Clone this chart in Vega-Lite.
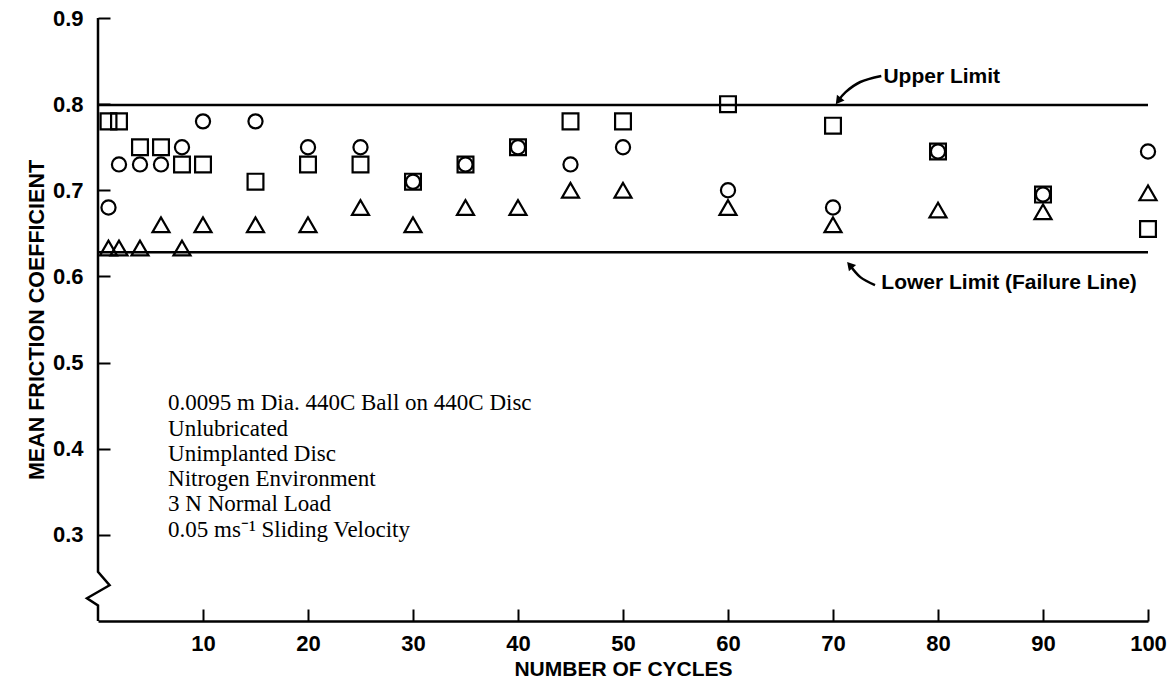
{
  "$schema": "https://vega.github.io/schema/vega-lite/v6.json",
  "width": 1050,
  "height": 603,
  "autosize": "none",
  "padding": {"left": 98, "top": 18, "right": 26, "bottom": 66},
  "background": "white",
  "config": {
    "view": {"stroke": null},
    "font": "Liberation Sans",
    "axis": {"grid": false, "labelColor": "black", "titleColor": "black", "domainColor": "black", "tickColor": "black"}
  },
  "datasets": {
    "friction": [
      {"cycles": 1, "mu": 0.68, "run": "circle"},
      {"cycles": 2, "mu": 0.73, "run": "circle"},
      {"cycles": 4, "mu": 0.73, "run": "circle"},
      {"cycles": 6, "mu": 0.73, "run": "circle"},
      {"cycles": 8, "mu": 0.75, "run": "circle"},
      {"cycles": 10, "mu": 0.78, "run": "circle"},
      {"cycles": 15, "mu": 0.78, "run": "circle"},
      {"cycles": 20, "mu": 0.75, "run": "circle"},
      {"cycles": 25, "mu": 0.75, "run": "circle"},
      {"cycles": 30, "mu": 0.71, "run": "circle"},
      {"cycles": 35, "mu": 0.73, "run": "circle"},
      {"cycles": 40, "mu": 0.75, "run": "circle"},
      {"cycles": 45, "mu": 0.73, "run": "circle"},
      {"cycles": 50, "mu": 0.75, "run": "circle"},
      {"cycles": 60, "mu": 0.70, "run": "circle"},
      {"cycles": 70, "mu": 0.68, "run": "circle"},
      {"cycles": 80, "mu": 0.745, "run": "circle"},
      {"cycles": 90, "mu": 0.695, "run": "circle"},
      {"cycles": 100, "mu": 0.745, "run": "circle"},
      {"cycles": 1, "mu": 0.78, "run": "square"},
      {"cycles": 2, "mu": 0.78, "run": "square"},
      {"cycles": 4, "mu": 0.75, "run": "square"},
      {"cycles": 6, "mu": 0.75, "run": "square"},
      {"cycles": 8, "mu": 0.73, "run": "square"},
      {"cycles": 10, "mu": 0.73, "run": "square"},
      {"cycles": 15, "mu": 0.71, "run": "square"},
      {"cycles": 20, "mu": 0.73, "run": "square"},
      {"cycles": 25, "mu": 0.73, "run": "square"},
      {"cycles": 30, "mu": 0.71, "run": "square"},
      {"cycles": 35, "mu": 0.73, "run": "square"},
      {"cycles": 40, "mu": 0.75, "run": "square"},
      {"cycles": 45, "mu": 0.78, "run": "square"},
      {"cycles": 50, "mu": 0.78, "run": "square"},
      {"cycles": 60, "mu": 0.80, "run": "square"},
      {"cycles": 70, "mu": 0.775, "run": "square"},
      {"cycles": 80, "mu": 0.745, "run": "square"},
      {"cycles": 90, "mu": 0.695, "run": "square"},
      {"cycles": 100, "mu": 0.655, "run": "square"},
      {"cycles": 1, "mu": 0.633, "run": "triangle"},
      {"cycles": 2, "mu": 0.633, "run": "triangle"},
      {"cycles": 4, "mu": 0.633, "run": "triangle"},
      {"cycles": 6, "mu": 0.66, "run": "triangle"},
      {"cycles": 8, "mu": 0.633, "run": "triangle"},
      {"cycles": 10, "mu": 0.66, "run": "triangle"},
      {"cycles": 15, "mu": 0.66, "run": "triangle"},
      {"cycles": 20, "mu": 0.66, "run": "triangle"},
      {"cycles": 25, "mu": 0.68, "run": "triangle"},
      {"cycles": 30, "mu": 0.66, "run": "triangle"},
      {"cycles": 35, "mu": 0.68, "run": "triangle"},
      {"cycles": 40, "mu": 0.68, "run": "triangle"},
      {"cycles": 45, "mu": 0.70, "run": "triangle"},
      {"cycles": 50, "mu": 0.70, "run": "triangle"},
      {"cycles": 60, "mu": 0.68, "run": "triangle"},
      {"cycles": 70, "mu": 0.66, "run": "triangle"},
      {"cycles": 80, "mu": 0.677, "run": "triangle"},
      {"cycles": 90, "mu": 0.675, "run": "triangle"},
      {"cycles": 100, "mu": 0.697, "run": "triangle"}
    ],
    "limits": [
      {"limit": "Upper Limit", "mu": 0.799},
      {"limit": "Lower Limit (Failure Line)", "mu": 0.628}
    ],
    "yAxisLine": [
      {"i": 0, "cycles": 0, "mu": 0.9},
      {"i": 1, "cycles": 0, "mu": 0.257},
      {"i": 2, "cycles": 1.1, "mu": 0.2415},
      {"i": 3, "cycles": -1.05, "mu": 0.2264},
      {"i": 4, "cycles": 0, "mu": 0.218},
      {"i": 5, "cycles": 0, "mu": 0.2}
    ],
    "arrowPaths": [
      {"arrow": "upper", "i": 0, "cycles": 74.6, "mu": 0.8326},
      {"arrow": "upper", "i": 1, "cycles": 72.6, "mu": 0.8257},
      {"arrow": "upper", "i": 2, "cycles": 71.2, "mu": 0.814},
      {"arrow": "upper", "i": 3, "cycles": 70.5, "mu": 0.8037},
      {"arrow": "lower", "i": 0, "cycles": 74.0, "mu": 0.5899},
      {"arrow": "lower", "i": 1, "cycles": 72.6, "mu": 0.5992},
      {"arrow": "lower", "i": 2, "cycles": 71.6, "mu": 0.6132}
    ],
    "notes": [
      {"label": "Upper Limit", "cycles": 74.8, "mu": 0.8315},
      {"label": "Lower Limit (Failure Line)", "cycles": 74.6, "mu": 0.5922}
    ]
  },
  "layer": [
    {
      "data": {"name": "limits"},
      "mark": {"type": "rule", "color": "black", "strokeWidth": 2.5},
      "encoding": {
        "y": {"field": "mu", "type": "quantitative"}
      }
    },
    {
      "data": {"name": "yAxisLine"},
      "mark": {"type": "line", "color": "black", "strokeWidth": 2.5, "strokeJoin": "miter"},
      "encoding": {
        "x": {"field": "cycles", "type": "quantitative"},
        "y": {"field": "mu", "type": "quantitative"},
        "order": {"field": "i"}
      }
    },
    {
      "data": {"name": "friction"},
      "transform": [{"filter": "datum.run === 'square'"}],
      "mark": {"type": "point", "shape": "square", "size": 250, "filled": false, "color": "black", "strokeWidth": 2.2, "opacity": 1},
      "encoding": {
        "x": {
          "field": "cycles",
          "type": "quantitative",
          "scale": {"domain": [0, 100], "nice": false, "zero": false},
          "axis": {
            "title": "NUMBER OF CYCLES",
            "values": [10, 20, 30, 40, 50, 60, 70, 80, 90, 100],
            "domainWidth": 2.5,
            "tickWidth": 2,
            "tickSize": -12,
            "labelPadding": 24,
            "labelFontSize": 22,
            "labelFontWeight": "bold",
            "labelFlush": false,
            "labelOverlap": false,
            "titleFontSize": 21,
            "titleFontWeight": "bold",
            "titlePadding": 4
          }
        },
        "y": {
          "field": "mu",
          "type": "quantitative",
          "scale": {"domain": [0.2, 0.9], "nice": false, "zero": false},
          "axis": {
            "title": "MEAN FRICTION COEFFICIENT",
            "values": [0.3, 0.4, 0.5, 0.6, 0.7, 0.8, 0.9],
            "format": ".1f",
            "domain": false,
            "tickWidth": 2,
            "tickSize": -12,
            "labelPadding": 27,
            "labelFontSize": 22,
            "labelFontWeight": "bold",
            "labelFlush": false,
            "titleFontSize": 21.5,
            "titleFontWeight": "bold",
            "titlePadding": 4
          }
        }
      }
    },
    {
      "data": {"name": "friction"},
      "transform": [{"filter": "datum.run === 'circle'"}],
      "mark": {"type": "point", "shape": "circle", "size": 200, "filled": false, "color": "black", "strokeWidth": 2.2, "opacity": 1},
      "encoding": {
        "x": {"field": "cycles", "type": "quantitative"},
        "y": {"field": "mu", "type": "quantitative"}
      }
    },
    {
      "data": {"name": "friction"},
      "transform": [{"filter": "datum.run === 'triangle'"}],
      "mark": {"type": "point", "shape": "triangle-up", "size": 290, "filled": false, "color": "black", "strokeWidth": 2.2, "opacity": 1},
      "encoding": {
        "x": {"field": "cycles", "type": "quantitative"},
        "y": {"field": "mu", "type": "quantitative"}
      }
    },
    {
      "data": {"name": "arrowPaths"},
      "mark": {"type": "line", "color": "black", "strokeWidth": 2.5, "interpolate": "cardinal"},
      "encoding": {
        "x": {"field": "cycles", "type": "quantitative"},
        "y": {"field": "mu", "type": "quantitative"},
        "detail": {"field": "arrow"},
        "order": {"field": "i"}
      }
    },
    {
      "data": {"values": [{}]},
      "mark": {"type": "point", "shape": "triangle-up", "size": 90, "filled": true, "color": "black", "opacity": 1, "angle": 217},
      "encoding": {
        "x": {"datum": 70.5, "type": "quantitative"},
        "y": {"datum": 0.8037, "type": "quantitative"}
      }
    },
    {
      "data": {"values": [{}]},
      "mark": {"type": "point", "shape": "triangle-up", "size": 90, "filled": true, "color": "black", "opacity": 1, "angle": 319},
      "encoding": {
        "x": {"datum": 71.6, "type": "quantitative"},
        "y": {"datum": 0.6132, "type": "quantitative"}
      }
    },
    {
      "data": {"name": "notes"},
      "mark": {"type": "text", "align": "left", "baseline": "middle", "font": "Liberation Sans", "fontSize": 21, "fontWeight": "bold", "color": "black"},
      "encoding": {
        "x": {"field": "cycles", "type": "quantitative"},
        "y": {"field": "mu", "type": "quantitative"},
        "text": {"field": "label"}
      }
    },
    {
      "data": {"values": [{}]},
      "mark": {
        "type": "text",
        "align": "left",
        "baseline": "middle",
        "font": "Liberation Serif",
        "fontSize": 23,
        "lineHeight": 25.3,
        "color": "black",
        "text": [
          "0.0095 m Dia. 440C Ball on 440C Disc",
          "Unlubricated",
          "Unimplanted Disc",
          "Nitrogen Environment",
          "3 N Normal Load",
          "0.05 ms⁻¹ Sliding Velocity"
        ]
      },
      "encoding": {
        "x": {"datum": 6.67, "type": "quantitative"},
        "y": {"datum": 0.4528, "type": "quantitative"}
      }
    }
  ]
}
